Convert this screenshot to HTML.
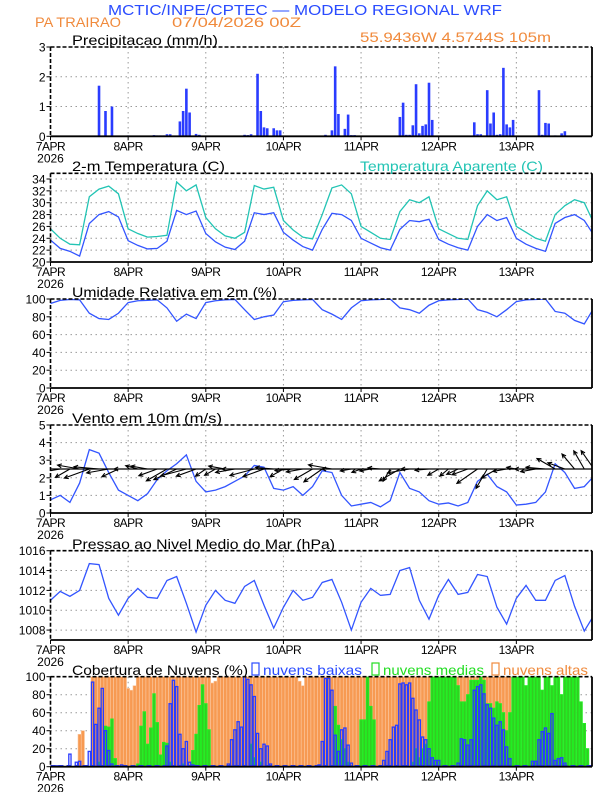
<!DOCTYPE html>
<html><head><meta charset="utf-8"><style>
html,body{margin:0;padding:0;background:#fff;}
svg{display:block;font-family:"Liberation Sans",sans-serif;}
</style></head><body>
<svg id="chart" width="612" height="792" viewBox="0 0 612 792" xmlns="http://www.w3.org/2000/svg">
<text x="108" y="15" font-size="15" fill="#2a4cff" textLength="394" lengthAdjust="spacingAndGlyphs">MCTIC/INPE/CPTEC — MODELO REGIONAL WRF</text>
<text x="35" y="27" font-size="14" fill="#f08a3c" textLength="86" lengthAdjust="spacingAndGlyphs">PA TRAIRAO</text>
<text x="172" y="27" font-size="14" fill="#f08a3c" textLength="129" lengthAdjust="spacingAndGlyphs">07/04/2026 00Z</text>
<text x="360" y="42" font-size="14" fill="#f08a3c" textLength="191" lengthAdjust="spacingAndGlyphs">55.9436W 4.5744S 105m</text>
<text x="72" y="45" font-size="14" fill="#000" textLength="146" lengthAdjust="spacingAndGlyphs">Precipitacao (mm/h)</text>
<text x="72" y="171" font-size="14" fill="#000" textLength="153" lengthAdjust="spacingAndGlyphs">2-m Temperatura (C)</text>
<text x="360" y="171" font-size="14" fill="#22c4b4" textLength="183" lengthAdjust="spacingAndGlyphs">Temperatura Aparente (C)</text>
<text x="72" y="297" font-size="14" fill="#000" textLength="205" lengthAdjust="spacingAndGlyphs">Umidade Relativa em 2m (%)</text>
<text x="72" y="423" font-size="14" fill="#000" textLength="150" lengthAdjust="spacingAndGlyphs">Vento em 10m (m/s)</text>
<text x="72" y="549" font-size="14" fill="#000" textLength="263" lengthAdjust="spacingAndGlyphs">Pressao ao Nivel Medio do Mar (hPa)</text>
<text x="72" y="675" font-size="14" fill="#000" textLength="176" lengthAdjust="spacingAndGlyphs">Cobertura de Nuvens (%)</text>
<rect x="252" y="663" width="7" height="12" fill="none" stroke="#2a4cff" stroke-width="1.2"/>
<text x="263" y="675" font-size="14" fill="#2a4cff" textLength="99" lengthAdjust="spacingAndGlyphs">nuvens baixas</text>
<rect x="372" y="663" width="7" height="12" fill="none" stroke="#22dd22" stroke-width="1.2"/>
<text x="383" y="675" font-size="14" fill="#22dd22" textLength="101" lengthAdjust="spacingAndGlyphs">nuvens medias</text>
<rect x="492" y="663" width="7" height="12" fill="none" stroke="#f08a3c" stroke-width="1.2"/>
<text x="503" y="675" font-size="14" fill="#f08a3c" textLength="85" lengthAdjust="spacingAndGlyphs">nuvens altas</text>
</svg>
<script>
// ---------- data ----------
const dayLabels = ["7APR","8APR","9APR","10APR","11APR","12APR","13APR"];
const hours3 = [0,3,6,9,12,15,18,21,24,27,30,33,36,39,42,45,48,51,54,57,60,63,66,69,72,75,78,81,84,87,90,93,96,99,102,105,108,111,114,117,120,123,126,129,132,135,138,141,144,147,150,153,156,159,162,165,168];
const precip = [
0,0,0,0.02,0.02,0.02,0.02,0,0.02,0.02,0.02,0.02,0.02,0,0,1.7,0,0.85,0,1.0,0,0,0,0,
0.03,0,0,0,0,0,0,0,0.04,0.03,0.03,0.03,0.07,0.07,0,0,0.5,0.85,1.6,0.8,0,0.08,0.05,0,
0,0,0,0,0,0,0,0,0,0,0,0,0.05,0.04,0.07,0,2.1,0.85,0.3,0.27,0,0.27,0.2,0.2,
0,0,0,0,0,0,0,0,0,0,0,0,0,0.05,0,0.2,2.35,0.75,0,0.25,0.73,0.04,0.04,0,
0,0,0,0,0,0,0,0,0,0,0,0,0.65,1.13,0.05,0.05,0.37,1.75,0.1,0.35,0.4,1.8,0.55,0,
0,0.02,0.02,0,0,0,0,0,0,0,0,0.47,0.07,0.07,0,1.55,0.43,0.8,0.05,0.07,2.3,0.4,0.3,0.55,
0,0,0,0,0,0,0,1.55,0.05,0.45,0.43,0,0.03,0,0.1,0.17,0.02,0.02,0.02,0.02,0,0,0,0];
const tempAir = [23.7,22.3,21.8,21.0,26.5,28.0,28.5,27.6,23.6,22.8,22.2,22.3,23.5,28.7,28.0,28.6,24.8,23.4,22.5,22.1,23.5,28.3,28.0,28.3,25.0,23.7,22.6,22.0,25.5,28.2,28.0,27.0,24.0,23.2,22.4,22.0,25.5,27.0,26.8,27.2,23.8,23.0,22.4,22.0,26.0,28.0,27.0,27.5,24.0,23.0,22.3,21.8,26.5,27.5,28.0,27.0,24.5];
const tempApparent = [25.6,24.0,23.0,22.9,31.0,32.3,32.8,31.5,25.6,24.8,24.2,24.3,24.5,33.5,32.0,33.0,27.5,25.6,24.4,24.0,25.0,32.9,32.3,32.6,27.0,25.4,24.2,23.9,28.0,32.5,33.0,31.5,26.0,25.0,24.0,23.8,28.5,30.5,30.0,31.0,25.6,24.8,24.0,23.8,29.5,32.0,30.5,31.0,26.0,25.0,24.0,23.5,28.0,29.5,30.5,30.0,26.5];
const relHum = [95,98.5,99.5,99,84,78,77,84,96,98,98.5,99,90,75,83,78,96,98,99,99.5,88,77,80,82,97,98.5,99,99.5,88,83,77,90,98,99,99.5,100,90,88,84,93,98,99,99.5,100,88,85,80,88,97,99,99.5,100,86,84,76,72,90];
const windSpeed = [0.75,1.0,0.6,1.7,3.6,3.4,2.3,1.3,1.0,0.7,1.1,1.9,2.4,2.8,3.3,1.8,1.2,1.3,1.5,1.8,2.1,2.7,2.6,1.4,1.3,1.5,1.0,1.5,2.4,2.3,1.0,0.4,0.5,0.6,0.35,0.7,2.3,1.4,1.2,0.7,0.5,0.57,0.4,0.6,1.8,2.2,1.5,1.2,0.45,0.5,0.6,1.2,2.8,2.3,1.4,1.5,2.1];
const windDir = [75,80,60,100,70,95,80,65,90,105,100,70,60,65,75,70,55,60,100,80,90,75,70,95,60,85,80,60,55,100,90,80,70,80,95,30,60,80,90,85,60,50,65,70,55,30,60,80,100,90,80,95,120,110,140,150,145];
const windArrowLen = [2.6,3.0,2.4,3.2,3.8,3.6,3.2,2.6,2.0,1.8,2.4,2.8,3.4,3.6,3.8,3.0,1.8,1.8,2.4,2.8,3.2,3.6,3.2,2.6,2.2,2.6,2.4,3.0,3.2,3.4,2.8,1.6,1.4,1.6,1.8,2.0,3.4,3.2,2.6,2.0,1.8,1.6,1.8,2.4,3.6,3.2,2.6,2.0,1.4,1.6,2.2,2.8,3.0,2.6,2.8,3.0,3.2];
const pressure = [1011.0,1011.9,1011.4,1012.0,1014.7,1014.6,1011.2,1009.5,1011.2,1012.2,1011.3,1011.2,1013.0,1013.4,1010.7,1007.8,1010.5,1012.0,1011.0,1010.7,1012.4,1013.0,1010.5,1008.2,1010.3,1012.0,1011.0,1011.3,1012.8,1013.1,1010.8,1008.0,1010.8,1012.2,1011.5,1011.6,1014.0,1014.3,1011.0,1009.1,1011.5,1013.1,1011.6,1011.8,1013.6,1013.4,1010.3,1008.6,1011.2,1012.5,1011.0,1011.0,1013.0,1013.5,1010.4,1007.9,1009.5];
const cloudLow = [
1,1,1,1,0,0,14,0,5,6,0,1,17,94,47,65,87,40,18,3,0,0,2,0,
0,0,0,0,0,0,0,0,0,0,0,0,23,70,96,89,36,20,28,5,2,0,0,0,
0,0,0,0,0,0,0,3,30,41,50,44,100,97,91,78,37,20,25,23,3,0,0,0,
0,0,0,0,0,0,0,0,0,0,0,2,28,98,98,85,35,17,41,43,24,4,0,0,
0,0,0,0,0,0,0,7,17,30,44,46,92,93,91,93,76,63,52,33,30,20,10,7,
7,0,0,0,0,0,4,31,30,24,30,85,89,91,81,69,65,54,46,50,41,22,9,0,
0,0,0,0,0,6,6,30,39,43,37,59,7,9,10,4,0,0,0,0,0,0,0,0];
const cloudMid = [
0,0,0,0,0,0,0,0,0,0,0,0,0,0,0,5,0,45,44,53,9,0,0,0,
0,0,0,3,45,61,25,43,81,49,13,27,26,5,0,0,0,3,0,0,18,36,68,91,
70,41,0,0,0,0,0,0,0,0,0,0,0,0,25,10,0,5,0,0,0,0,0,0,
0,0,0,0,0,0,0,0,0,0,0,0,0,0,0,0,67,46,30,20,5,0,0,0,
52,52,100,67,52,0,0,0,0,0,0,0,0,0,0,0,5,20,10,20,25,72,100,100,
100,100,100,100,100,100,90,72,72,80,96,96,96,100,96,70,70,65,72,70,60,40,60,100,
100,100,100,90,100,100,100,100,85,100,100,90,100,100,80,100,100,100,100,100,72,48,20,0];
const cloudHigh = [
0,0,0,0,0,0,0,0,0,36,40,0,0,100,100,100,100,100,100,100,100,100,100,100,
87,85,90,100,100,100,100,100,100,100,100,100,100,100,100,100,100,100,100,100,100,100,100,100,
100,100,93,95,100,100,100,100,100,100,100,100,100,100,100,100,100,100,100,100,100,100,100,100,
100,100,100,100,100,95,90,100,100,100,100,100,100,100,100,100,100,100,100,100,100,100,100,100,
100,100,100,100,100,100,100,100,100,100,100,100,100,100,100,100,100,100,100,100,100,100,100,100,
100,100,100,100,100,100,100,100,100,100,100,100,100,100,100,100,100,100,100,100,100,100,100,100,
0,0,0,0,0,0,0,0,0,0,0,0,0,0,0,0,0,0,0,0,0,0,0,0];
const precipTicks = [0,1,2,3];
const tempTicks = [20,22,24,26,28,30,32,34];
const rhTicks = [0,20,40,60,80,100];
const windTicks = [0,1,2,3,4,5];
const pressTicks = [1008,1010,1012,1014,1016];
const cloudTicks = [0,20,40,60,80,100];

// ---------- drawing ----------
const NS = "http://www.w3.org/2000/svg";
const svg = document.getElementById("chart");
const X0 = 50.5, XR = 592, PXH = 3.235;
const xOf = h => X0 + h * PXH;
function mk(tag, attrs, parent) {
  const e = document.createElementNS(NS, tag);
  for (const k in attrs) e.setAttribute(k, attrs[k]);
  (parent || svg).appendChild(e);
  return e;
}
function panel(name, top, bottom, vmin, vmax, ticks) {
  const yOf = v => bottom - (v - vmin) / (vmax - vmin) * (bottom - top);
  const g = mk("g", {});
  
  
  const cp = mk("clipPath", {id: name + "-clip"}, g);
  mk("rect", {x: X0, y: top, width: XR - X0, height: bottom - top}, cp);
  ticks.forEach(t => {
    const y = yOf(t);
    if (t !== vmin && t !== vmax) {
      const gl = mk("line", {x1: X0, x2: XR, y1: y, y2: y, stroke: "#999", "stroke-width": 1, "stroke-dasharray": "1.5,3.5"}, g);
      
      
    }
    const tk = mk("line", {x1: X0 - 4, x2: X0, y1: y, y2: y, stroke: "#000", "stroke-width": 1}, g);
    
    
    const lb = mk("text", {x: X0 - 5, y: y + 4.5, "font-size": 12, "text-anchor": "end", fill: "#000"}, g);
    
    
    lb.textContent = t;
  });
  dayLabels.forEach((d, i) => {
    const x = xOf(i * 24);
    if (i > 0) {
      const gl = mk("line", {x1: x, x2: x, y1: top, y2: bottom, stroke: "#999", "stroke-width": 1, "stroke-dasharray": "1.5,3.5"}, g);
      
      
    }
    const tk = mk("line", {x1: x, x2: x, y1: bottom, y2: bottom + 4, stroke: "#000", "stroke-width": 1}, g);
    
    
    const lb = mk("text", {x: x, y: bottom + 14, "font-size": 12, "text-anchor": "middle", fill: "#000", "letter-spacing": "-0.5"}, g);
    
    
    lb.textContent = d;
  });
  const yr = mk("text", {x: xOf(0), y: bottom + 26, "font-size": 12, "text-anchor": "middle", fill: "#000"}, g);
  
  
  yr.textContent = "2026";
  const data = mk("g", {"clip-path": "url(#" + name + "-clip)"}, g);
  
  
  const frame = mk("g", {}, g);
  
  
  mk("line", {x1: X0, x2: XR, y1: top, y2: top, stroke: "#000", "stroke-width": 1.6, "stroke-dasharray": "4,2"}, frame);
  mk("line", {x1: X0, x2: X0, y1: top, y2: bottom, stroke: "#000", "stroke-width": 1.6, "stroke-dasharray": "4,2"}, frame);
  mk("line", {x1: XR, x2: XR, y1: top, y2: bottom, stroke: "#000", "stroke-width": 1.8}, frame);
  mk("line", {x1: X0, x2: XR, y1: bottom, y2: bottom, stroke: "#000", "stroke-width": 1.8}, frame);
  return {yOf, data};
}
function line(p, hrs, vals, color, name) {
  const d = vals.map((v, i) => (i ? "L" : "M") + xOf(hrs[i]).toFixed(2) + "," + p.yOf(v).toFixed(2)).join("");
  const path = mk("path", {d: d, fill: "none", stroke: color, "stroke-width": 1.3}, p.data);
  
  
}

// Precip
const p1 = panel("precip", 47, 136.3, 0, 3, precipTicks);
precip.forEach((v, h) => {
  if (v <= 0) return;
  const y = p1.yOf(v);
  const b = mk("rect", {x: xOf(h) - 1.3, y: y, width: 2.6, height: p1.yOf(0) - y, fill: "#2a3cff"}, p1.data);
  
  
});

// Temperature
const p2 = panel("temp", 173.3, 262, 20, 34.96, tempTicks);
line(p2, hours3, tempApparent, "#22c4b4", "apparent-temp-line");
line(p2, hours3, tempAir, "#3355ff", "air-temp-line");

// RH
const p3 = panel("rh", 299, 388, 0, 100, rhTicks);
line(p3, hours3, relHum, "#3355ff", "rh-line");

// Wind
const p4 = panel("wind", 425, 513, 0, 5, windTicks);
line(p4, hours3, windSpeed, "#3355ff", "wind-speed-line");
hours3.forEach((h, i) => {
  const x0 = xOf(h), y0 = p4.yOf(2.5);
  const a = windDir[i] * Math.PI / 180;
  const L = windArrowLen[i] * 7;
  const dx = -Math.sin(a) * L, dy = Math.cos(a) * L;
  const x1 = x0 + dx, y1 = y0 + dy;
  const ang = Math.atan2(dy, dx);
  const hd = 4.5;
  const d = "M" + x0 + "," + y0 + "L" + x1 + "," + y1 +
    "M" + (x1 - hd * Math.cos(ang - 0.45)) + "," + (y1 - hd * Math.sin(ang - 0.45)) + "L" + x1 + "," + y1 +
    "L" + (x1 - hd * Math.cos(ang + 0.45)) + "," + (y1 - hd * Math.sin(ang + 0.45));
  const ar = mk("path", {d: d, fill: "none", stroke: "#000", "stroke-width": 1.1}, p4.data);
  
  
});
const wl = mk("line", {x1: X0, x2: XR, y1: p4.yOf(2.5), y2: p4.yOf(2.5), stroke: "#000", "stroke-width": 1.2}, p4.data);



// Pressure
const p5 = panel("pressure", 550.7, 640, 1007, 1016, pressTicks);
line(p5, hours3, pressure, "#3355ff", "pressure-line");

// Clouds
const p6 = panel("cloud", 676.7, 766.7, 0, 100, cloudTicks);
const bw = PXH;
cloudHigh.forEach((v, h) => {
  if (v <= 0) return;
  const y = p6.yOf(v);
  const b = mk("rect", {x: xOf(h) - bw / 2, y: y, width: bw, height: p6.yOf(0) - y, fill: "#f79a52", stroke: "#fbc8a0", "stroke-width": 0.6}, p6.data);
  
  
});
cloudMid.forEach((v, h) => {
  if (v <= 0) return;
  const y = p6.yOf(v);
  const b = mk("rect", {x: xOf(h) - bw / 2 + 0.4, y: y, width: bw - 0.8, height: p6.yOf(0) - y, fill: "#33cc22", stroke: "#22ee22", "stroke-width": 1}, p6.data);
  
  
});
cloudLow.forEach((v, h) => {
  if (v <= 0) return;
  const y = p6.yOf(v);
  const b = mk("rect", {x: xOf(h) - bw / 2 + 0.5, y: y, width: bw - 1, height: p6.yOf(0) - y, fill: "none", stroke: "#2a3cff", "stroke-width": 1.3}, p6.data);
  
  
});
const cb = mk("line", {x1: X0, x2: XR, y1: p6.yOf(0) - 1, y2: p6.yOf(0) - 1, stroke: "#2a3cff", "stroke-width": 1.5, "stroke-dasharray": "5,3"}, p6.data);


</script>
</body></html>
